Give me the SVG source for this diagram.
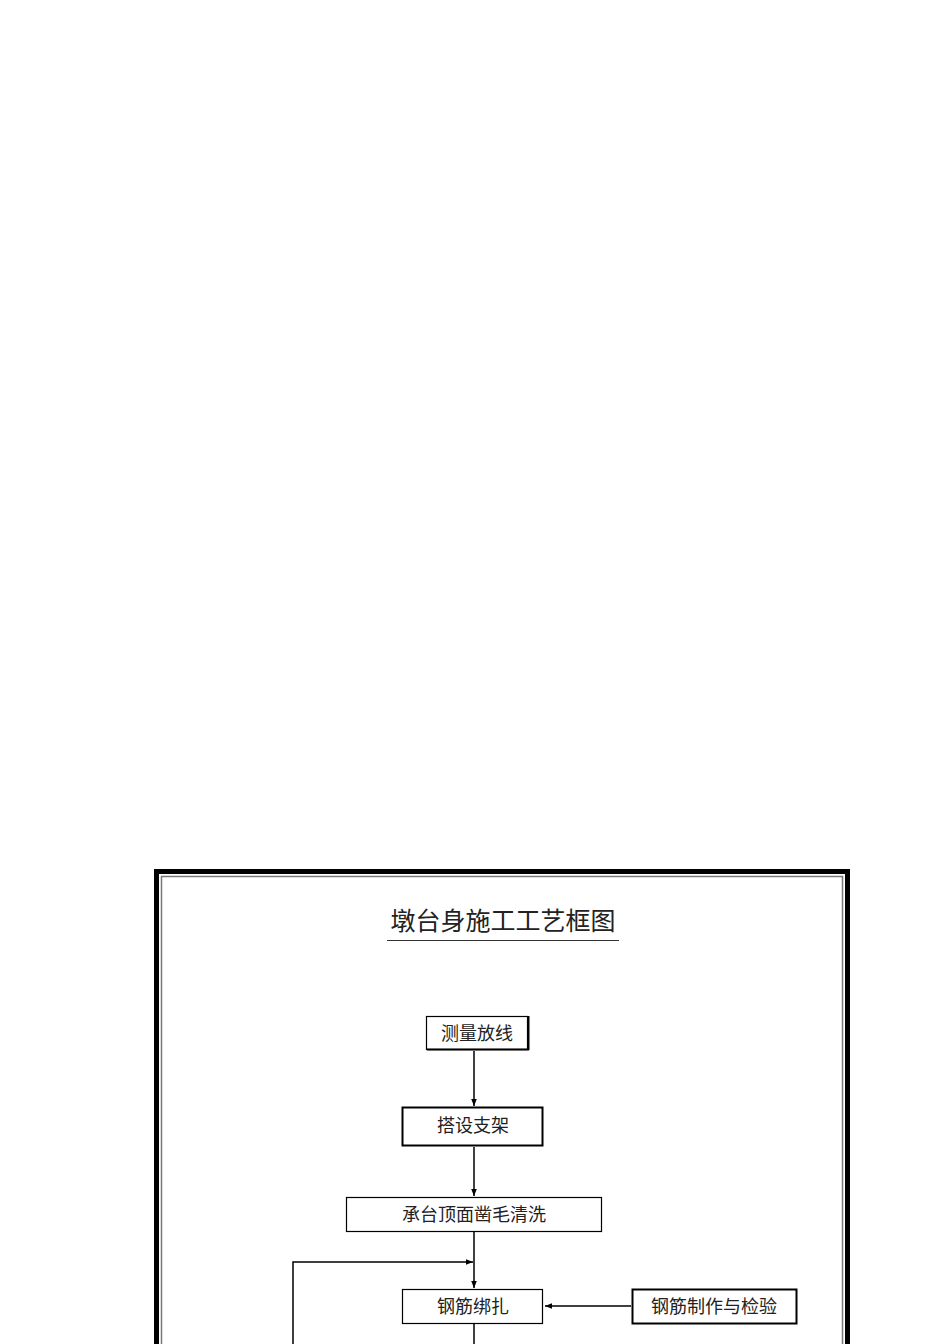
<svg xmlns="http://www.w3.org/2000/svg" width="950" height="1344" viewBox="0 0 950 1344">
<style>
.t{font-family:"Liberation Serif","Noto Sans CJK SC",sans-serif;font-size:18px;fill:#222;text-anchor:middle}
.ti{font-family:"Liberation Serif","Noto Sans CJK SC",sans-serif;font-size:25px;fill:#222;text-anchor:middle}
.b1{fill:#fff;stroke:#000;stroke-width:1.2}
.b2{fill:#fff;stroke:#000;stroke-width:2}
.c{fill:none;stroke:#000;stroke-width:1.5}
</style>
<defs>
<marker id="ah" viewBox="0 0 10 10" refX="10" refY="5" markerWidth="7" markerHeight="7" markerUnits="userSpaceOnUse" orient="auto">
<path d="M0,1 L10,5 L0,9 z" fill="#000"/>
</marker>
</defs>
<rect width="950" height="1344" fill="#fff"/>
<g id="frame">
<rect x="156.5" y="871.5" width="691" height="520" fill="none" stroke="#000" stroke-width="5"/>
<rect x="161.5" y="876.5" width="681" height="510" fill="none" stroke="#777" stroke-width="1.5"/>
</g>
<g id="title">
<text class="ti" x="503" y="930">墩台身施工工艺框图</text>
<line x1="387" y1="940.5" x2="619" y2="940.5" stroke="#333" stroke-width="1.2"/>
</g>
<g id="connectors">
<line class="c" x1="474" y1="1051" x2="474" y2="1106" marker-end="url(#ah)"/>
<line class="c" x1="474" y1="1147" x2="474" y2="1196" marker-end="url(#ah)"/>
<line class="c" x1="474" y1="1232" x2="474" y2="1288" marker-end="url(#ah)"/>
<polyline class="c" points="293,1344 293,1262 473,1262" marker-end="url(#ah)"/>
<line class="c" x1="631" y1="1306" x2="545" y2="1306" marker-end="url(#ah)"/>
<line class="c" x1="474" y1="1324" x2="474" y2="1344"/>
</g>
<g id="n1">
<rect class="b1" x="426.5" y="1016.5" width="101" height="33"/>
<line x1="427" y1="1049.5" x2="529" y2="1049.5" stroke="#000" stroke-width="2"/>
<line x1="528.5" y1="1016" x2="528.5" y2="1050" stroke="#000" stroke-width="2"/>
<text class="t" x="477" y="1040">测量放线</text>
</g>
<g id="n2">
<rect class="b2" x="402.5" y="1107.5" width="140" height="38"/>
<text class="t" x="473" y="1132">搭设支架</text>
</g>
<g id="n3">
<rect class="b1" x="346.5" y="1197.5" width="255" height="34"/>
<text class="t" x="474" y="1221">承台顶面凿毛清洗</text>
</g>
<g id="n4">
<rect class="b1" x="402.5" y="1289.5" width="140" height="34"/>
<text class="t" x="473" y="1313">钢筋绑扎</text>
</g>
<g id="n5">
<rect class="b2" x="632.5" y="1289.5" width="164" height="34"/>
<text class="t" x="714" y="1313">钢筋制作与检验</text>
</g>
</svg>
